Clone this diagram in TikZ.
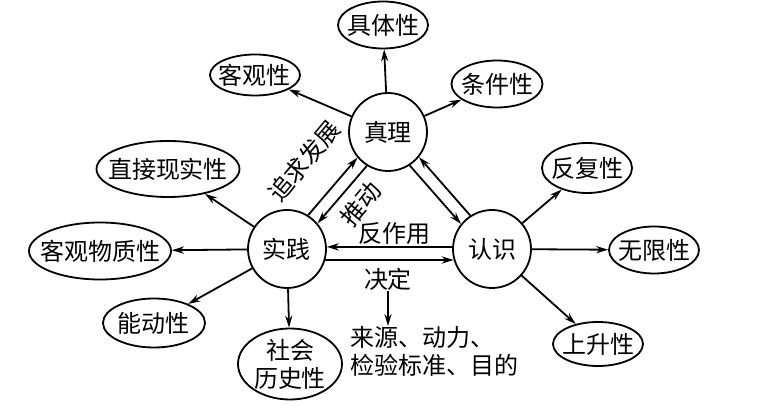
\documentclass[tikz,border=0pt]{standalone}
\usepackage{fontspec}
\setmainfont{Noto Sans CJK SC}
\usetikzlibrary{shapes.geometric,arrows.meta,calc}

\begin{document}
\begin{tikzpicture}[
    x=0.5pt, y=-0.5pt,
    core/.style={circle, draw, line width=0.9pt, minimum size=39pt, inner sep=0pt, font=\fontsize{12}{14}\selectfont},
    prop/.style={ellipse, draw, line width=0.9pt, inner xsep=-6pt, inner ysep=-3pt, align=center, font=\fontsize{12}{14}\selectfont},
    edge/.style={-{Stealth[length=6pt,width=3.6pt]}, line width=0.9pt},
    lbl/.style={inner sep=0pt, font=\fontsize{12}{14}\selectfont}
]
    \useasboundingbox (0,0) rectangle (773,406);

    % Core nodes
    \node[core] (zl) at (388,132) {真理};
    \node[core] (sj) at (287,249) {实践};
    \node[core] (rs) at (492,249) {认识};

    % Truth properties
    \node[prop, minimum width=45pt, minimum height=23.5pt] (jt) at (383,25) {具体性};
    \node[prop, minimum width=45pt, minimum height=20.5pt] (kg) at (255,75) {客观性};
    \node[prop, minimum width=45.5pt, minimum height=23.5pt] (tj) at (497,84) {条件性};

    % Practice properties
    \node[prop, minimum width=71.5pt, minimum height=28pt] (zj) at (168,169) {直接现实性};
    \node[prop, minimum width=71pt, minimum height=28.5pt] (wz) at (100,251) {客观物质性};
    \node[prop, minimum width=51pt, minimum height=24.5pt] (nd) at (154,323) {能动性};
    \node[prop, minimum width=52pt, minimum height=35.5pt] (sh) at (290,364) {社会\\历史性};

    % Cognition properties
    \node[prop, minimum width=45pt, minimum height=25pt] (ff) at (587,168) {反复性};
    \node[prop, minimum width=45pt, minimum height=23.5pt] (wx) at (654,250) {无限性};
    \node[prop, minimum width=45pt, minimum height=22pt] (ss) at (598,344) {上升性};

    % Outward arrows
    \draw[edge] (zl) -- (jt);
    \draw[edge] (zl) -- (kg);
    \draw[edge] (zl) -- (tj);
    \draw[edge] (sj) -- (zj);
    \draw[edge] (sj) -- (wz);
    \draw[edge] (sj) -- (nd);
    \draw[edge] (sj) -- (sh);
    \draw[edge] (rs) -- (ff);
    \draw[edge] (rs) -- (wx);
    \draw[edge] (rs) -- (ss);

    % Practice <-> truth
    \draw[edge] (sj.58) -- (zl.220);
    \draw[edge] (zl.238) -- (sj.40);
    \node[lbl, rotate=50] (zq) at (304,161) {追求发展};
    \node[lbl, rotate=50] (td) at (361,204) {推动};

    % Truth <-> cognition
    \draw[edge] (zl.-57) -- (rs.141);
    \draw[edge] (rs.123) -- (zl.-39);

    % Cognition <-> practice
    \draw[edge] (rs.177) -- (sj.3);
    \draw[edge] (sj.-16) -- (rs.196);
    \node[lbl] (fz) at (394,233) {反作用};
    \node[lbl] (jd) at (388,279) {决定};

    % What practice decides
    \node[lbl, anchor=north west, align=left] (ly) at (350,326) {来源、动力、\\检验标准、目的};
    \draw[edge] (jd) -- (jd |- ly.north);
\end{tikzpicture}
\end{document}
